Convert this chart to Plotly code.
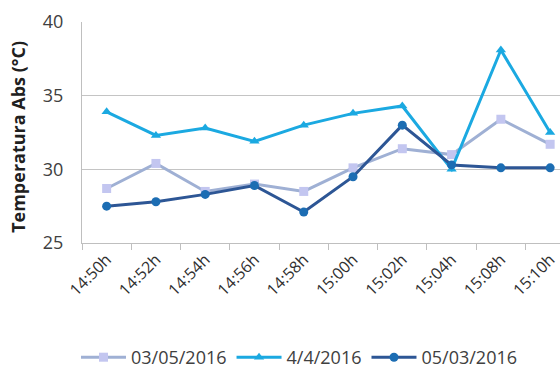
import plotly.graph_objects as go

categories = ["14:50h", "14:52h", "14:54h", "14:56h", "14:58h", "15:00h", "15:02h", "15:04h", "15:08h", "15:10h"]
s_0305 = [28.7, 30.4, 28.5, 29.0, 28.5, 30.1, 31.4, 31.0, 33.4, 31.7]
s_0404 = [33.9, 32.3, 32.8, 31.9, 33.0, 33.8, 34.3, 30.0, 38.1, 32.5]
s_0503 = [27.5, 27.8, 28.3, 28.9, 27.1, 29.5, 33.0, 30.3, 30.1, 30.1]
names = ["03/05/2016", "4/4/2016", "05/03/2016"]
y_title = "Temperatura Abs (°C)"

fig = go.Figure()
fig.add_trace(go.Scatter(x=categories, y=s_0305, name=names[0], mode="lines+markers",
                         line=dict(color="#9fb0d4", width=3),
                         marker=dict(symbol="square", size=9, color="#c3c6f0")))
fig.add_trace(go.Scatter(x=categories, y=s_0404, name=names[1], mode="lines+markers",
                         line=dict(color="#1ba9e1", width=3),
                         marker=dict(symbol="triangle-up", size=9, color="#1ba9e1")))
fig.add_trace(go.Scatter(x=categories, y=s_0503, name=names[2], mode="lines+markers",
                         line=dict(color="#2d5695", width=3),
                         marker=dict(symbol="circle", size=9, color="#1c6db3")))

fig.add_annotation(text="<b>" + y_title + "</b>", xref="paper", yref="paper",
                   x=-0.134, y=0.48, xanchor="center", yanchor="middle", textangle=-90,
                   showarrow=False, font=dict(size=18, color="#202020"))

fig.update_layout(
    width=560, height=376,
    margin=dict(l=82, r=0, t=22, b=133),
    paper_bgcolor="white", plot_bgcolor="white",
    font=dict(family="Open Sans, Liberation Sans, sans-serif", color="#404040"),
    showlegend=True,
    legend=dict(orientation="h", x=0.455, xanchor="center", y=-0.52, yanchor="middle",
                font=dict(size=18, color="#404040"), itemwidth=45, tracegroupgap=0),
    xaxis=dict(type="category", range=[-0.5, 9.2], tickangle=-45,
               tickfont=dict(size=16, color="#303030"),
               showline=True, linecolor="#bfbfbf", linewidth=1,
               ticks="outside", tickson="boundaries", ticklen=6, tickcolor="#bfbfbf",
               showgrid=False),
    yaxis=dict(range=[25, 40], dtick=5, tickfont=dict(size=18, color="#404040"),
               showline=True, linecolor="#bfbfbf", linewidth=1,
               gridcolor="#c4c4c4", gridwidth=1,
               ticks="", ticklabelstandoff=14),
)

fig.write_html("out.html")
